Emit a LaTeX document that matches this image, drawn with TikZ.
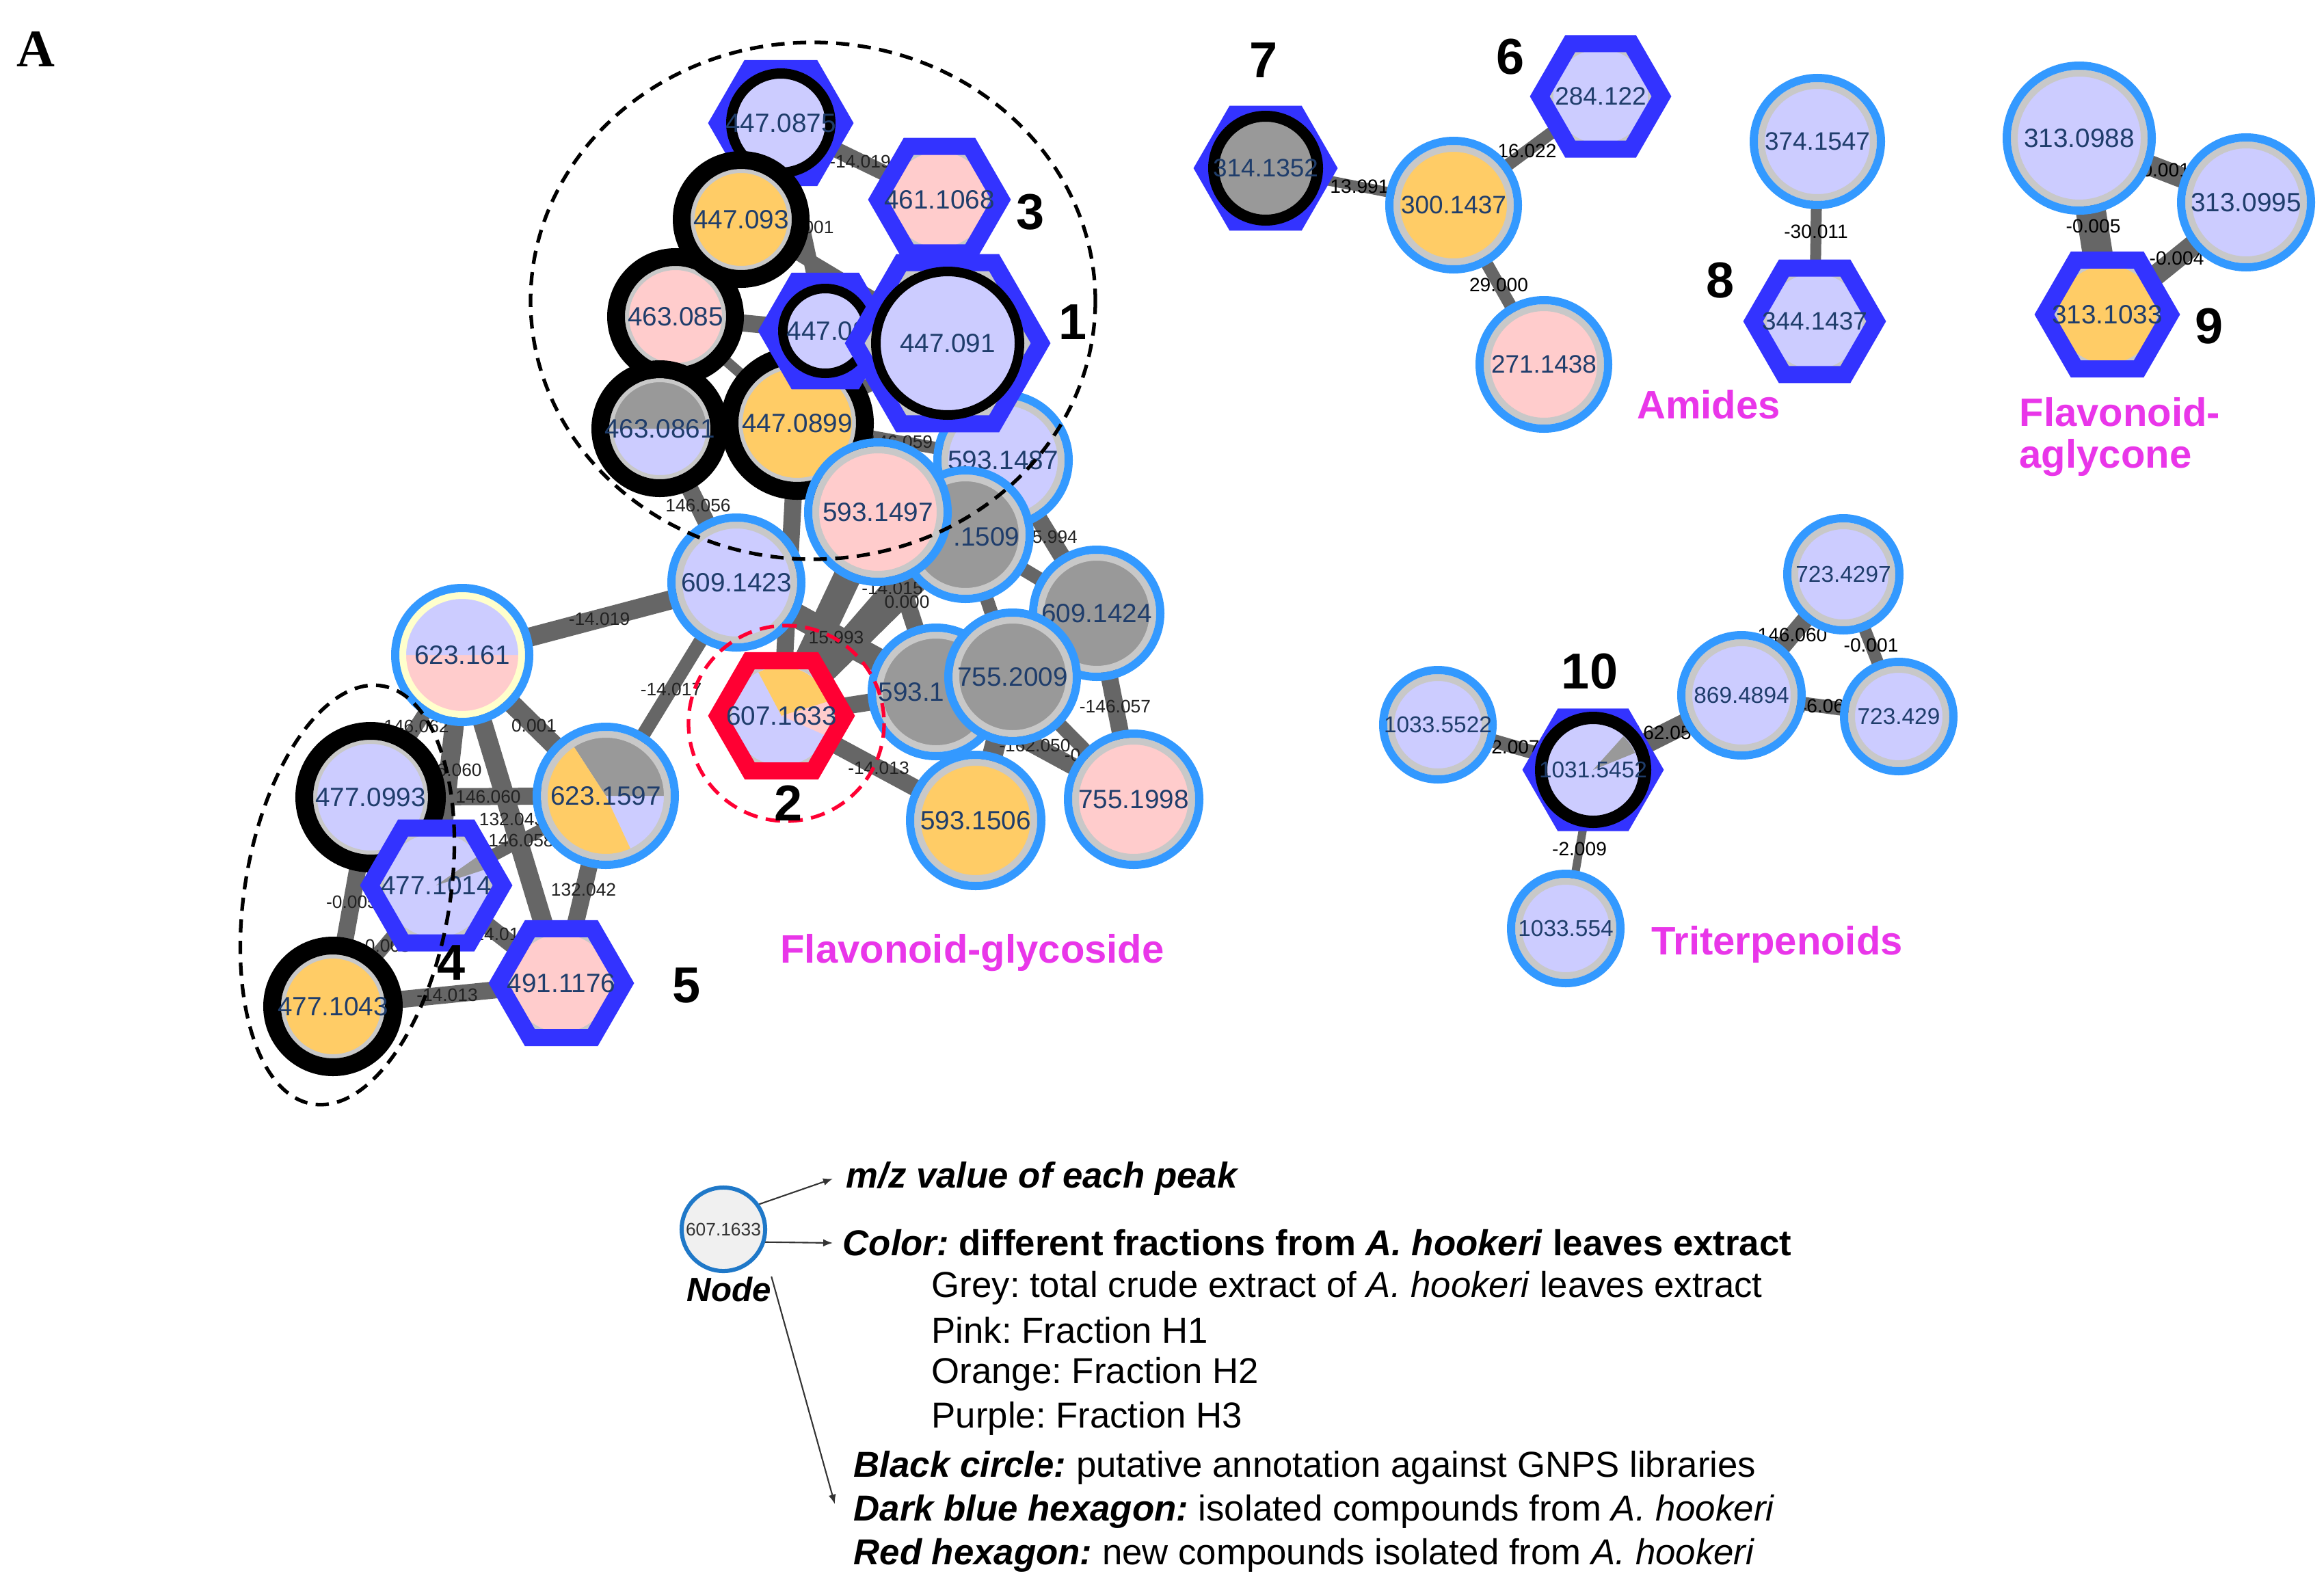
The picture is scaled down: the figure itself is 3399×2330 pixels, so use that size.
\documentclass[tikz,border=0pt]{standalone}
\usepackage{fontspec}
\setmainfont{Liberation Sans}
\newfontfamily\serifbf{Liberation Serif}
\usetikzlibrary{arrows.meta}
\frenchspacing
\definecolor{cPur}{HTML}{CCCCFF}
\definecolor{cPink}{HTML}{FFCCCC}
\definecolor{cOra}{HTML}{FFCC66}
\definecolor{cGry}{HTML}{999999}
\definecolor{cLG}{HTML}{C8C8C8}
\definecolor{cRing}{HTML}{3399FF}
\definecolor{cHex}{HTML}{3333FF}
\definecolor{cRed}{HTML}{FF0033}
\definecolor{cEdge}{HTML}{666666}
\definecolor{cTxt}{HTML}{1F3D6B}
\definecolor{cMag}{HTML}{E936E9}
\definecolor{cYel}{HTML}{FFFFCC}
\definecolor{cELab}{HTML}{222222}
\definecolor{cDark}{HTML}{333333}
\definecolor{cLegRing}{HTML}{1F78C8}
\definecolor{cLegFill}{HTML}{F0F0F0}
% node drawing helpers (#1 = coordinate name)
\newcommand{\RingF}[3]{\fill[#3] (#1) circle[radius=#2-20];}
\newcommand{\RingB}[3]{\draw[#3, line width=1mm] (#1) circle[radius=#2-17];\draw[cRing, line width=1.2mm] (#1) circle[radius=#2-6];}
\newcommand{\BlkF}[3]{\fill[#3] (#1) circle[radius=#2-28];}
\newcommand{\BlkB}[2]{\draw[cLG, line width=0.6mm] (#1) circle[radius=#2-29];\draw[black, line width=2.6mm] (#1) circle[radius=#2-13];}
\newcommand{\HexF}[3]{\fill[cLG] (#1) +(0:#2) -- +(60:#2) -- +(120:#2) -- +(180:#2) -- +(240:#2) -- +(300:#2) -- cycle;\fill[#3] (#1) circle[radius=0.866*#2-8];}
\newcommand{\HexB}[3]{\draw[#3, line width=2.5mm, line join=miter] (#1) +(0:#2) -- +(60:#2) -- +(120:#2) -- +(180:#2) -- +(240:#2) -- +(300:#2) -- cycle;}
\newcommand{\BlkIn}[4]{\fill[#4] (#1) circle[radius=#2-#3+1];\draw[black, line width=#3*0.01cm] (#1) circle[radius=#2-#3/2];}
\newcommand{\pieW}[5]{\fill[#5] (#1) -- +(-#3:#2) arc[start angle=-#3, end angle=-#4, radius=#2] -- cycle;}
\begin{document}
\begin{tikzpicture}[x=0.01cm,y=-0.01cm,
  lnk/.style={draw=cEdge},
  elab/.style={font=\fontsize{7.5}{8}\selectfont, text=cELab, inner sep=0pt},
  elabB/.style={font=\fontsize{8}{9}\selectfont, text=black, inner sep=0pt},
  nlab/.style={font=\fontsize{11}{12}\selectfont, text=cTxt, inner sep=0pt},
  nlabM/.style={font=\fontsize{10.5}{11}\selectfont, text=cTxt, inner sep=0pt},
  nlabS/.style={font=\fontsize{9.5}{10}\selectfont, text=cTxt, inner sep=0pt},
  bignum/.style={font=\bfseries\fontsize{21}{22}\selectfont, inner sep=0pt},
  clsname/.style={font=\bfseries\fontsize{16.5}{18}\selectfont, text=cMag, inner sep=0pt},
  legtxt/.style={font=\fontsize{15}{16}\selectfont, inner sep=0pt, anchor=west},
  legarr/.style={draw=cDark, line width=0.6pt, -{Latex[length=1.4mm,width=1.1mm]}},
  dashblk/.style={draw=black, line width=1.5pt, dash pattern=on 5.5pt off 3.5pt},
  dashred/.style={draw=cRed, line width=1.5pt, dash pattern=on 6pt off 3.5pt}]
\useasboundingbox (0,0) rectangle (3399,2330);
\fill[white] (0,0) rectangle (3399,2330);
% ---------- node centres ----------
\coordinate (n0875) at (1142,180);
\coordinate (n1068) at (1374,292);
\coordinate (n093) at (1084,321);
\coordinate (n085) at (988,463);
\coordinate (n08) at (1207,484);
\coordinate (n091) at (1386,502);
\coordinate (n0861) at (965,627);
\coordinate (n0899) at (1166,619);
\coordinate (n1487) at (1467,673);
\coordinate (n1509) at (1412,782);
\coordinate (n1497) at (1284,749);
\coordinate (n1423) at (1077,852);
\coordinate (n1424) at (1604,897);
\coordinate (n1x) at (1369,1012);
\coordinate (n2009) at (1481,990);
\coordinate (n1998) at (1658,1169);
\coordinate (n1506) at (1427,1200);
\coordinate (n1633) at (1143,1047);
\coordinate (n161) at (676,958);
\coordinate (n1597) at (886,1164);
\coordinate (n0993) at (542,1166);
\coordinate (n1014) at (638,1295);
\coordinate (n1043) at (487,1472);
\coordinate (n1176) at (821,1438);
\coordinate (n314) at (1851,246);
\coordinate (n300) at (2126,300);
\coordinate (n284) at (2341,141);
\coordinate (n271) at (2258,533);
\coordinate (n374) at (2658,207);
\coordinate (n344) at (2654,470);
\coordinate (n0988) at (3041,202);
\coordinate (n0995) at (3285,296);
\coordinate (n1033) at (3082,460);
\coordinate (n4297) at (2696,840);
\coordinate (n4894) at (2547,1017);
\coordinate (n429) at (2777,1048);
\coordinate (n5522) at (2103,1060);
\coordinate (n5452) at (2330,1126);
\coordinate (n554) at (2290,1358);
% ---------- edges ----------
\draw[lnk, line width=2.3mm] (n0875) -- (n1068);
\draw[lnk, line width=2.2mm] (n0875) -- (n093);
\draw[lnk, line width=2.0mm] (n0875) -- (n08);
\draw[lnk, line width=2.5mm] (n093) -- (n085);
\draw[lnk, line width=2.0mm] (n093) -- (n091);
\draw[lnk, line width=2.5mm] (n085) -- (n08);
\draw[lnk, line width=2.0mm] (n085) -- (n0861);
\draw[lnk, line width=1.5mm] (n085) -- (n0899);
\draw[lnk, line width=2.0mm] (n0861) -- (n0899);
\draw[lnk, line width=2.5mm] (n0861) -- (n1423);
\draw[lnk, line width=2.0mm] (n0899) -- (n08);
\draw[lnk, line width=2.0mm] (n0899) -- (n091);
\draw[lnk, line width=1.8mm] (n0899) -- (n1487);
\draw[lnk, line width=3.0mm] (n0899) -- (n1497);
\draw[lnk, line width=2.5mm] (n0899) -- (n1633);
\draw[lnk, line width=0.6mm] (n091) -- (n1068);
\draw[lnk, line width=2.0mm] (n091) -- (n1487);
\draw[lnk, line width=2.0mm] (n08) -- (n091);
\draw[lnk, line width=2.5mm] (n1487) -- (n1424);
\draw[lnk, line width=2.0mm] (n1509) -- (n1424);
\draw[lnk, line width=2.8mm] (n1423) -- (n161);
\draw[lnk, line width=2.0mm] (n1423) -- (n1597);
\draw[lnk, line width=3.5mm] (n1423) -- (n1x);
\draw[lnk, line width=3.0mm] (n1633) -- (n1487);
\draw[lnk, line width=4.0mm] (n1633) -- (n1497);
\draw[lnk, line width=3.0mm] (n1633) -- (n1509);
\draw[lnk, line width=2.5mm] (n1633) -- (n1x);
\draw[lnk, line width=2.5mm] (n1633) -- (n1506);
\draw[lnk, line width=2.5mm] (n1x) -- (n1497);
\draw[lnk, line width=2.5mm] (n1x) -- (n1998);
\draw[lnk, line width=2.0mm] (n1x) -- (n1424);
\draw[lnk, line width=3.0mm] (n1506) -- (n2009);
\draw[lnk, line width=2.0mm] (n2009) -- (n1998);
\draw[lnk, line width=2.5mm] (n1424) -- (n1998);
\draw[lnk, line width=2.0mm] (n1509) -- (n2009);
\draw[lnk, line width=3.0mm] (n1497) -- (n1509);
\draw[lnk, line width=2.8mm] (n161) -- (n1597);
\draw[lnk, line width=2.0mm] (n161) -- (n0993);
\draw[lnk, line width=2.8mm] (n161) -- (n1014);
\draw[lnk, line width=2.8mm] (n161) -- (n1176);
\draw[lnk, line width=2.5mm] (n0993) -- (n1597);
\draw[lnk, line width=1.8mm] (n1014) -- (n1597);
\draw[lnk, line width=2.5mm] (n1597) -- (n1176);
\draw[lnk, line width=2.5mm] (n0993) -- (n1043);
\draw[lnk, line width=2.0mm] (n1014) -- (n1043);
\draw[lnk, line width=2.5mm] (n1043) -- (n1176);
\draw[lnk, line width=2.5mm] (n1014) -- (n1176);
\draw[lnk, line width=1.5mm] (n314) -- (n300);
\draw[lnk, line width=1.8mm] (n300) -- (n284);
\draw[lnk, line width=1.8mm] (n300) -- (n271);
\draw[lnk, line width=1.6mm] (n374) -- (n344);
\draw[lnk, line width=3.0mm] (n0988) -- (n0995);
\draw[lnk, line width=4.4mm] (n0988) -- (n1033);
\draw[lnk, line width=3.0mm] (n0995) -- (n1033);
\draw[lnk, line width=2.0mm] (n5522) -- (n5452);
\draw[lnk, line width=3.0mm] (n5452) -- (n4894);
\draw[lnk, line width=2.5mm] (n4894) -- (n4297);
\draw[lnk, line width=1.8mm] (n4297) -- (n429);
\draw[lnk, line width=2.0mm] (n4894) -- (n429);
\draw[lnk, line width=1.2mm] (n5452) -- (n554);
% ---------- edge labels ----------
\path (n0875) -- node[elab] {-14.019} (n1068);
\path (n0875) -- node[elab, xshift=0.12cm] {0.001} (n08);
\path (n0861) -- node[elab] {146.056} (n1423);
\path (n0899) -- node[elab] {146.059} (n1487);
\path (n1487) -- node[elab] {15.994} (n1424);
\path (n1423) -- node[elab] {-14.019} (n161);
\path (n1423) -- node[elab] {-14.017} (n1597);
\path (n1423) -- node[elab] {15.993} (n1x);
\path (n1633) -- node[elab] {-14.015} (n1487);
\path (n1x) -- node[elab] {0.000} (n1497);
\path (n1633) -- node[elab] {-14.013} (n1506);
\path (n1x) -- node[elab] {-162.050} (n1998);
\path (n2009) -- node[elab, pos=0.64] {-0.001} (n1998);
\path (n1424) -- node[elab] {-146.057} (n1998);
\path (n161) -- node[elab] {0.001} (n1597);
\path (n161) -- node[elab] {146.062} (n0993);
\path (n161) -- node[elab] {146.060} (n1014);
\path (n161) -- node[elab] {132.043} (n1176);
\path (n0993) -- node[elab] {146.060} (n1597);
\path (n1014) -- node[elab] {146.058} (n1597);
\path (n1597) -- node[elab] {132.042} (n1176);
\path (n0993) -- node[elab] {-0.005} (n1043);
\path (n1014) -- node[elab] {-0.003} (n1043);
\path (n1043) -- node[elab] {-14.013} (n1176);
\path (n1014) -- node[elab] {-14.016} (n1176);
\path (n314) -- node[elabB] {13.991} (n300);
\path (n300) -- node[elabB] {16.022} (n284);
\path (n300) -- node[elabB] {29.000} (n271);
\path (n374) -- node[elabB] {-30.011} (n344);
\path (n0988) -- node[elabB] {-0.001} (n0995);
\path (n0988) -- node[elabB] {-0.005} (n1033);
\path (n0995) -- node[elabB] {-0.004} (n1033);
\path (n5522) -- node[elabB] {2.007} (n5452);
\path (n5452) -- node[elabB] {162.056} (n4894);
\path (n4894) -- node[elabB] {146.060} (n4297);
\path (n4297) -- node[elabB] {-0.001} (n429);
\path (n4894) -- node[elabB] {146.060} (n429);
\path (n5452) -- node[elabB] {-2.009} (n554);
% ---------- nodes: flavonoid-glycoside cluster ----------
\HexF{n0875}{92}{cPur}\HexB{n0875}{92}{cHex}\BlkIn{n0875}{80}{15}{cPur}
\node[nlab] (t0875) at (n0875) {447.0875};
\BlkF{n085}{100}{cPink}\BlkB{n085}{100}
\node[nlab] (t085) at (n085) {463.085};
\BlkF{n093}{100}{cOra}\BlkB{n093}{100}
\node[nlab] (t093) at (n093) {447.093};
\BlkF{n0861}{100}{cPur}\pieW{n0861}{72}{0}{180}{cGry}\BlkB{n0861}{100}
\node[nlab] (t0861) at (n0861) {463.0861};
\BlkF{n0899}{112}{cOra}\BlkB{n0899}{112}
\node[nlab] (t0899) at (n0899) {447.0899};
\HexF{n08}{84}{cPur}\HexB{n08}{84}{cHex}\BlkIn{n08}{69}{14}{cPur}
\node[nlab, anchor=west] (t08) at (1150,484) {447.08};
\RingF{n1487}{102}{cPur}\RingB{n1487}{102}{cLG}
\node[nlab] (t1487) at (n1487) {593.1487};
\HexF{n091}{136}{cPur}\HexB{n091}{136}{cHex}\BlkIn{n091}{112}{14}{cPur}
\node[nlab] (t091) at (n091) {447.091};
\RingF{n1509}{100}{cGry}\RingB{n1509}{100}{cLG}
\node[nlab, anchor=east] (t1509) at (1492,785) {.1509};
\RingF{n1497}{108}{cPink}\RingB{n1497}{108}{cLG}
\node[nlab] (t1497) at (n1497) {593.1497};
\RingF{n1423}{101}{cPur}\RingB{n1423}{101}{cLG}
\node[nlab] (t1423) at (n1423) {609.1423};
\RingF{n1424}{99}{cGry}\RingB{n1424}{99}{cLG}
\node[nlab] (t1424) at (n1424) {609.1424};
\RingF{n1x}{100}{cGry}\RingB{n1x}{100}{cLG}
\node[nlab, anchor=west] (t1x) at (1284,1012) {593.1};
\RingF{n2009}{100}{cGry}\RingB{n2009}{100}{cLG}
\node[nlab] (t2009) at (n2009) {755.2009};
\RingF{n1998}{102}{cPink}\RingB{n1998}{102}{cLG}
\node[nlab] (t1998) at (n1998) {755.1998};
\RingF{n1506}{102}{cOra}\RingB{n1506}{102}{cLG}
\node[nlab] (t1506) at (n1506) {593.1506};
\HexF{n1633}{93}{cPur}\pieW{n1633}{72}{17}{118}{cOra}\pieW{n1633}{72}{336}{377}{cPink}\HexB{n1633}{93}{cRed}
\node[nlab] (t1633) at (n1633) {607.1633};
\RingF{n161}{104}{cPink}\pieW{n161}{84}{0}{180}{cPur}\RingB{n161}{104}{cYel}
\node[nlab] (t161) at (n161) {623.161};
\RingF{n1597}{107}{cPur}\pieW{n1597}{87}{0}{123}{cGry}\pieW{n1597}{87}{123}{295}{cOra}\RingB{n1597}{107}{cLG}
\node[nlab] (t1597) at (n1597) {623.1597};
\BlkF{n0993}{110}{cPur}\BlkB{n0993}{110}
\node[nlab] (t0993) at (n0993) {477.0993};
\HexF{n1014}{97}{cPur}\pieW{n1014}{76}{18}{35}{cGry}\HexB{n1014}{97}{cHex}
\node[nlab] (t1014) at (n1014) {477.1014};
\BlkF{n1043}{102}{cOra}\BlkB{n1043}{102}
\node[nlab] (t1043) at (n1043) {477.1043};
\HexF{n1176}{92}{cPink}\HexB{n1176}{92}{cHex}
\node[nlab] (t1176) at (n1176) {491.1176};
\HexF{n1068}{90}{cPink}\HexB{n1068}{90}{cHex}
\node[nlab] (t1068) at (n1068) {461.1068};
% dashed groupings
\draw[dashblk] (1189,440) ellipse[x radius=413, y radius=378];
\draw[dashblk, rotate around={-9.5:(508,1309)}] (508,1309) ellipse[x radius=150, y radius=310];
\draw[dashred] (1150,1058) circle[radius=143];
% ---------- amides ----------
\HexF{n314}{91}{cGry}\HexB{n314}{91}{cHex}\BlkIn{n314}{84}{16}{cGry}
\node[nlabM] (t314) at (n314) {314.1352};
\RingF{n300}{100}{cOra}\RingB{n300}{100}{cLG}
\node[nlabM] (t300) at (n300) {300.1437};
\HexF{n284}{89}{cPur}\HexB{n284}{89}{cHex}
\node[nlabM] (t284) at (n284) {284.122};
\RingF{n271}{100}{cPink}\RingB{n271}{100}{cLG}
\node[nlabM] (t271) at (n271) {271.1438};
\RingF{n374}{99}{cPur}\RingB{n374}{99}{cLG}
\node[nlabM] (t374) at (n374) {374.1547};
\HexF{n344}{90}{cPur}\HexB{n344}{90}{cHex}
\node[nlabM] (t344) at (n344) {344.1437};
% ---------- flavonoid aglycone ----------
\RingF{n0988}{112}{cPur}\RingB{n0988}{112}{cLG}
\node[nlab] (t0988) at (n0988) {313.0988};
\RingF{n0995}{101}{cPur}\RingB{n0995}{101}{cLG}
\node[nlab] (t0995) at (n0995) {313.0995};
\HexF{n1033}{92}{cOra}\HexB{n1033}{92}{cHex}
\node[nlab] (t1033) at (n1033) {313.1033};
% ---------- triterpenoids ----------
\RingF{n4297}{88}{cPur}\RingB{n4297}{88}{cLG}
\node[nlabS] (t4297) at (n4297) {723.4297};
\RingF{n4894}{94}{cPur}\RingB{n4894}{94}{cLG}
\node[nlabS] (t4894) at (n4894) {869.4894};
\RingF{n429}{86}{cPur}\RingB{n429}{86}{cLG}
\node[nlabS] (t429) at (n429) {723.429};
\RingF{n5522}{86}{cPur}\RingB{n5522}{86}{cLG}
\node[nlabS] (t5522) at (n5522) {1033.5522};
\HexF{n5452}{89}{cPur}\HexB{n5452}{89}{cHex}\BlkIn{n5452}{85}{18}{cPur}\pieW{n5452}{66}{22}{48}{cGry}
\node[nlabS] (t5452) at (n5452) {1031.5452};
\RingF{n554}{86}{cPur}\RingB{n554}{86}{cLG}
\node[nlabS] (t554) at (n554) {1033.554};
% ---------- compound numbers ----------
\node[bignum] (L1) at (1569,471) {1};
\node[bignum] (L2) at (1153,1175) {2};
\node[bignum] (L3) at (1507,310) {3};
\node[bignum] (L4) at (660,1408) {4};
\node[bignum] (L5) at (1004,1441) {5};
\node[bignum] (L6) at (2209,83) {6};
\node[bignum] (L7) at (1848,88) {7};
\node[bignum] (L8) at (2516,410) {8};
\node[bignum] (L9) at (3231,477) {9};
\node[bignum] (L10) at (2325,982) {10};
% ---------- class names ----------
\node[clsname] (cFG) at (1422,1394) {Flavonoid-glycoside};
\node[clsname] (cAm) at (2499,592) {Amides};
\node[clsname, anchor=west] (cFA1) at (2953,603) {Flavonoid-};
\node[clsname, anchor=west] (cFA2) at (2953,670) {aglycone};
\node[clsname] (cTr) at (2599,1381) {Triterpenoids};
\node[font=\serifbf\bfseries\fontsize{22}{24}\selectfont, inner sep=0pt] (lblA) at (52,72) {A};
% ---------- legend ----------
\node[circle, draw=cLegRing, line width=0.6mm, fill=cLegFill, minimum size=1.22cm, inner sep=0pt,
      font=\fontsize{7.5}{8}\selectfont, text=cDark] (legN) at (1058,1798) {607.1633};
\node[font=\bfseries\itshape\fontsize{14}{15}\selectfont, inner sep=0pt] (legNode) at (1066,1886) {Node};
\node[legtxt] (lmz) at (1237,1724) {\bfseries\itshape m/z value of each peak};
\node[legtxt] (lcol) at (1232,1818) {\bfseries\textit{Color:} different fractions from \textit{A. hookeri} leaves extract};
\node[legtxt] (lgr) at (1362,1884) {Grey: total crude extract of \textit{A. hookeri} leaves extract};
\node[legtxt] (lpk) at (1362,1946) {Pink: Fraction H1};
\node[legtxt] (lor) at (1362,2010) {Orange: Fraction H2};
\node[legtxt] (lpu) at (1362,2075) {Purple: Fraction H3};
\node[legtxt] (lbc) at (1248,2147) {\textbf{\textit{Black circle:}} putative annotation against GNPS libraries};
\node[legtxt] (ldb) at (1248,2211) {\textbf{\textit{Dark blue hexagon:}} isolated compounds from \textit{A. hookeri}};
\node[legtxt] (lrh) at (1248,2275) {\textbf{\textit{Red hexagon:}} new compounds isolated from \textit{A. hookeri}};
\coordinate (a1) at (1218,1724);
\coordinate (a2) at (1218,1818);
\coordinate (a3) at (1221,2200);
\draw[legarr] (legN.35) -- (a1);
\draw[legarr] (legN.-17) -- (a2);
\draw[legarr] (legNode.north east) -- (a3);
\end{tikzpicture}
\end{document}
